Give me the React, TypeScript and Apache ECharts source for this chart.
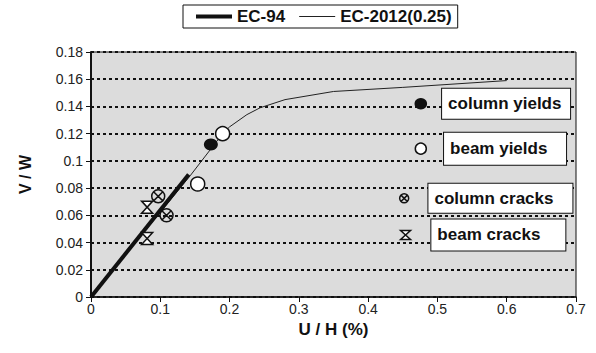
import React, { useEffect, useRef } from "react";
import * as echarts from "echarts";

// ---- data ----
const ec94: [number, number][] = [
  [0, 0],
  [0.141, 0.09],
];
const ec2012: [number, number][] = [
  [0, 0],
  [0.143, 0.089],
  [0.19, 0.12],
  [0.2, 0.125],
  [0.225, 0.134],
  [0.244, 0.139],
  [0.28, 0.145],
  [0.35, 0.151],
  [0.45, 0.154],
  [0.6, 0.159],
];
const columnYields: [number, number][] = [[0.173, 0.112]];
const beamYields: [number, number][] = [
  [0.19, 0.12],
  [0.154, 0.083],
];
const columnCracks: [number, number][] = [
  [0.097, 0.074],
  [0.109, 0.06],
];
const beamCracks: [number, number][] = [
  [0.081, 0.066],
  [0.081, 0.043],
];
// in-plot key markers with their labels
const keyLabels = ["column yields", "beam yields", "column cracks", "beam cracks"];
const keyPoints: [number, number][] = [
  [0.476, 0.142],
  [0.476, 0.109],
  [0.452, 0.0725],
  [0.454, 0.0456],
];
const seriesNames = ["EC-94", "EC-2012(0.25)"];
const xTicks = { min: 0, max: 0.7, interval: 0.1 };
const yTicks = { min: 0, max: 0.18, interval: 0.02 };

const HOURGLASS = "path://M0,0 L10,0 L0,12 L10,12 Z";
const CIRCLEX =
  "path://M10,0 A10,10 0 1,1 10,20 A10,10 0 1,1 10,0 Z M2.9,2.9 L17.1,17.1 M17.1,2.9 L2.9,17.1";

const FONT = "Liberation Sans, Arial, sans-serif";

export default function App() {
  const ref = useRef<HTMLDivElement>(null);
  useEffect(() => {
    if (!ref.current) return;
    const chart = echarts.init(ref.current, undefined, { renderer: "svg" });

    const boxLabel = (w: number, h: number, dist: number) => ({
      show: true,
      position: "right" as const,
      distance: dist,
      backgroundColor: "#fff",
      borderColor: "#111",
      borderWidth: 1,
      padding: [0, 6],
      width: w - 12,
      height: h,
      lineHeight: h,
      color: "#111",
      fontFamily: FONT,
      fontWeight: "bold" as const,
      fontSize: 17,
      align: "left" as const,
    });
    const keyBox = [
      { w: 128, h: 30, d: 15, sym: "circle", size: [11, 10], fill: "#111" },
      { w: 122, h: 32, d: 17, sym: "circle", size: 11, fill: "#fff" },
      { w: 144, h: 29, d: 19, sym: CIRCLEX, size: 9, fill: "transparent" },
      { w: 134, h: 31, d: 20, sym: HOURGLASS, size: [10, 9], fill: "#fff" },
    ];

    chart.setOption({
      animation: false,
      textStyle: { fontFamily: FONT },
      legend: {
        left: 183,
        top: 5,
        data: [
          { name: seriesNames[0], icon: "path://M0,0 L36,0 L36,4 L0,4 Z" },
          { name: seriesNames[1], icon: "path://M0,0 L36,0 L36,1 L0,1 Z" },
        ],
        symbolKeepAspect: true,
        backgroundColor: "#fff",
        borderColor: "#111",
        borderWidth: 1,
        padding: [3, 6, 3, 13],
        itemWidth: 36,
        itemHeight: 14,
        itemGap: 14,
        itemStyle: { borderWidth: 0 },
        textStyle: { fontSize: 17, fontWeight: "bold", color: "#111", fontFamily: FONT },
      },
      grid: {
        left: 91,
        right: 20,
        top: 52,
        bottom: 56,
        show: true,
        backgroundColor: "#dcdcdc",
        borderColor: "#111",
        borderWidth: 1,
      },
      xAxis: {
        type: "value",
        ...xTicks,
        name: "U / H (%)",
        nameLocation: "middle",
        nameGap: 23,
        nameTextStyle: { fontSize: 17, fontWeight: "bold", color: "#111" },
        axisLine: { show: true, lineStyle: { color: "#111", width: 1.5 } },
        axisTick: { show: true, length: 5, lineStyle: { color: "#111" } },
        axisLabel: { fontSize: 14, color: "#222", margin: 5 },
        splitLine: { show: false },
      },
      yAxis: {
        type: "value",
        ...yTicks,
        name: "V / W",
        nameLocation: "middle",
        nameGap: 58,
        nameTextStyle: { fontSize: 16, fontWeight: "bold", color: "#111" },
        axisLine: { show: true, lineStyle: { color: "#111", width: 2 } },
        axisTick: { show: true, length: 5, lineStyle: { color: "#111" } },
        axisLabel: { fontSize: 14, color: "#222", margin: 8 },
        splitLine: { show: true, lineStyle: { color: "#111", width: 2, type: [3, 3] } },
      },
      series: [
        {
          name: seriesNames[0],
          type: "line",
          data: ec94,
          symbol: "none",
          lineStyle: { color: "#111", width: 4 },
          itemStyle: { color: "#111" },
          z: 3,
        },
        {
          name: seriesNames[1],
          type: "line",
          data: ec2012,
          symbol: "none",
          lineStyle: { color: "#222", width: 1 },
          itemStyle: { color: "#222" },
          z: 2,
        },
        {
          type: "scatter",
          data: columnYields,
          symbol: "circle",
          symbolSize: [14, 12],
          itemStyle: { color: "#111", opacity: 1 },
          z: 5,
        },
        {
          type: "scatter",
          data: beamYields,
          symbol: "circle",
          symbolSize: 14,
          itemStyle: { color: "#fff", borderColor: "#111", borderWidth: 1.5, opacity: 1 },
          z: 5,
        },
        {
          type: "scatter",
          data: columnCracks,
          symbol: CIRCLEX,
          symbolSize: 13,
          itemStyle: { color: "transparent", borderColor: "#111", borderWidth: 1.5, opacity: 1 },
          z: 5,
        },
        {
          type: "scatter",
          data: beamCracks,
          symbol: HOURGLASS,
          symbolSize: [11, 12],
          itemStyle: { color: "#fff", borderColor: "#111", borderWidth: 1.5, opacity: 1 },
          z: 5,
        },
        ...keyPoints.map((pt, i) => ({
          type: "scatter",
          data: [{ value: pt }],
          symbol: keyBox[i].sym,
          symbolSize: keyBox[i].size,
          itemStyle: { color: keyBox[i].fill, borderColor: "#111", borderWidth: 1.5, opacity: 1 },
          label: {
            ...boxLabel(keyBox[i].w, keyBox[i].h, keyBox[i].d),
            formatter: () => keyLabels[i],
          },
          z: 6,
        })),
      ],
    });
    return () => chart.dispose();
  }, []);
  return <div ref={ref} style={{ width: 596, height: 353, position: "absolute", left: 0, top: 0 }} />;
}
